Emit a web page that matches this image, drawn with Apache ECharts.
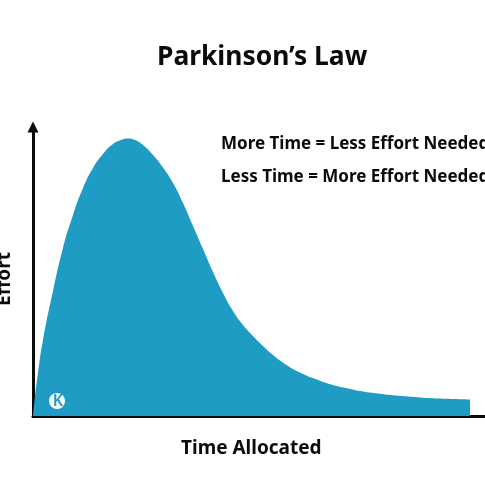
<!DOCTYPE html>
<html><head><meta charset="utf-8">
<style>html,body{margin:0;padding:0;background:#fff}#c{width:485px;height:485px}</style>
<script src="https://cdn.jsdelivr.net/npm/echarts@6/dist/echarts.min.js"></script>
</head><body><div id="c"></div>
<script>
const titleText = "Parkinson’s Law";
const noteLines = ["More Time = Less Effort Needed", "Less Time = More Effort Needed"];
const xName = "Time Allocated";
const yName = "Effort";
const timeValues =   [0, 2, 5, 10, 20, 30, 40, 50, 60, 70, 80, 88, 95, 102, 110, 120, 130, 140, 150, 160, 170, 180, 190, 200, 210, 220, 230, 240, 255, 270, 285, 300, 315, 330, 345, 360, 375, 390, 405, 420, 437];
const effortValues = [0, 20, 43, 76, 125, 168, 201, 228, 248, 262, 272, 276, 277.5, 276, 271, 261, 248.5, 233, 213, 190, 167, 144, 123, 105, 91, 80, 70, 61, 50, 42, 36, 31, 27.5, 24.5, 22.5, 20.7, 19.4, 18.3, 17.5, 17, 16.5];
const xMax = 452, yMax = 289;
const fillColor = "#1F9CC3", ink = "#0b0b0b", fontFamily = "'Noto Sans', sans-serif";

const chart = echarts.init(document.getElementById('c'), null, {renderer:'canvas'});
chart.setOption({
  backgroundColor:'#fff',
  animation:false,
  grid:{left:33,right:0,top:127,bottom:69},
  xAxis:{type:'value',min:0,max:xMax,splitLine:{show:false},axisTick:{show:false},axisLabel:{show:false},
    axisLine:{show:true,onZero:false,lineStyle:{color:ink,width:3}}},
  yAxis:{type:'value',min:0,max:yMax,splitLine:{show:false},axisTick:{show:false},axisLabel:{show:false},
    axisLine:{show:true,onZero:false,symbol:['none','triangle'],symbolSize:[11,11],symbolOffset:[0,0],lineStyle:{color:ink,width:3}}},
  series:[{type:'line',data:timeValues.map((t,i)=>[t,effortValues[i]]),smooth:0.5,showSymbol:false,
    lineStyle:{width:0},areaStyle:{color:fillColor,opacity:1},z:1}],
  graphic:[
    {type:'text',left:157,top:44,z:10,style:{text:titleText,font:"700 26.4px "+fontFamily,fill:ink}},
    {type:'text',left:221,top:136,z:10,style:{text:noteLines[0],font:"700 17px "+fontFamily,fill:ink}},
    {type:'text',left:221,top:169,z:10,style:{text:noteLines[1],font:"700 17px "+fontFamily,fill:ink}},
    {type:'text',left:181,top:439,z:10,style:{text:xName,font:"700 19px "+fontFamily,fill:ink}},
    {type:'text',x:5,y:279,rotation:Math.PI/2,z:10,style:{text:yName,font:"700 19px "+fontFamily,fill:ink,align:'center',verticalAlign:'middle'}},
    {type:'circle',shape:{cx:57,cy:401,r:8},z:10,style:{fill:'#fff'}},
    {type:'text',x:58,y:401,z:11,style:{text:'K',font:"600 16px "+fontFamily,fill:fillColor,align:'center',verticalAlign:'middle'}}
  ]
});
</script></body></html>
